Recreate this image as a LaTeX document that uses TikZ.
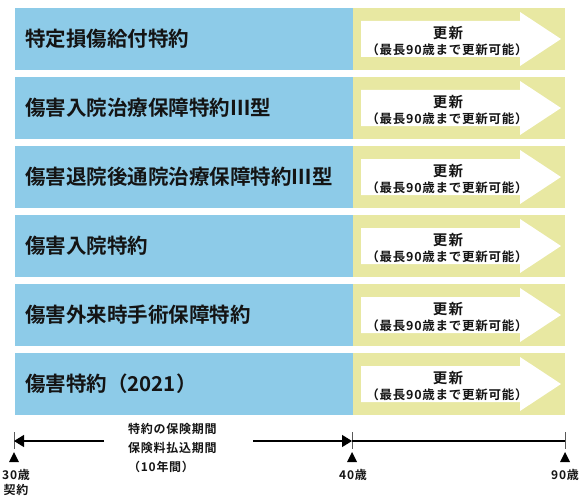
\documentclass[tikz,border=0pt]{standalone}
\usepackage{fontspec}
\setmainfont{Noto Sans CJK JP}[BoldFont={Noto Sans CJK JP Bold}]
\usetikzlibrary{arrows.meta}
\definecolor{rowblue}{RGB}{141,203,232}
\definecolor{rowyellow}{RGB}{232,232,162}
\definecolor{ink}{RGB}{20,20,20}
\begin{document}
\begin{tikzpicture}[x=1pt,y=-1pt,
  bluebox/.style={fill=rowblue, minimum width=338pt, minimum height=62pt, anchor=north west, inner sep=0pt, outer sep=0pt},
  yellowbox/.style={fill=rowyellow, minimum width=212pt, minimum height=62pt, anchor=north west, inner sep=0pt, outer sep=0pt},
  titletext/.style={anchor=west, inner sep=0pt, text=ink, font=\bfseries\fontsize{20.5}{24}\selectfont},
  renewbig/.style={inner sep=0pt, text=ink, font=\bfseries\fontsize{14.5}{17}\selectfont\addfontfeatures{LetterSpace=9}},
  renewsmall/.style={inner sep=0pt, text=ink, font=\bfseries\fontsize{12.5}{15}\selectfont\addfontfeatures{LetterSpace=6}},
  small/.style={inner sep=0pt, text=ink, font=\bfseries\fontsize{12}{15}\selectfont\addfontfeatures{LetterSpace=6}},
  tickline/.style={draw=black!65, line width=1pt},
  timeline/.style={draw=black, line width=1.3pt},
  mark30/.style={fill=black}
]
\useasboundingbox (0,0) rectangle (580,500);

\foreach \t [count=\i] in {特定損傷給付特約,傷害入院治療保障特約Ⅲ型,傷害退院後通院治療保障特約Ⅲ型,傷害入院特約,傷害外来時手術保障特約,傷害特約（2021）}{
  \pgfmathsetmacro\c{39+69*(\i-1)}
  \node[bluebox] (b\i) at (15,{\c-31}) {};
  \node[yellowbox] (y\i) at (353,{\c-31}) {};
  \fill[white] (361,{\c-18}) -- (520,{\c-18}) -- (520,{\c-27}) -- (561,\c) -- (520,{\c+27}) -- (520,{\c+18}) -- (361,{\c+18}) -- cycle;
  \node[titletext] (t\i) at (25,\c) {\t};
  \node[renewbig] (ra\i) at (448,{\c-6}) {更新};
  \node[renewsmall] (rb\i) at (447,{\c+11}) {（最長90歳まで更新可能）};
}

% timeline
\coordinate (t30) at (14,441);
\coordinate (t40) at (352,441);
\coordinate (t90) at (565,441);
\coordinate (la) at (104,441);
\coordinate (lb) at (253,441);
\coordinate (t30top) at (14,432);
\coordinate (t30bot) at (14,449);
\coordinate (t40top) at (352,432);
\coordinate (t40bot) at (352,449);
\coordinate (t90top) at (565,432);
\coordinate (t90bot) at (565,449);

\draw[tickline] (t30top) -- (t30bot);
\draw[tickline] (t40top) -- (t40bot);
\draw[tickline] (t90top) -- (t90bot);

\draw[timeline, -{Triangle[length=10pt,width=12pt]}] (la) -- (t30);
\draw[timeline, -{Triangle[length=10pt,width=12pt]}] (lb) -- (t40);
\draw[timeline] (t40) -- (t90);

\node[small, anchor=west] (p1) at (128,429) {特約の保険期間};
\node[small, anchor=west] (p2) at (128,448) {保険料払込期間};
\node[small, anchor=west] (p3) at (128,467) {（10年間）};

% small triangles
\foreach \x/\n in {14/a,352/b,565/c}{
  \fill[mark30] (\x,452) -- ({\x+5},462) -- ({\x-5},462) -- cycle;
}
\node[small] (l30) at (16,475) {30歳};
\node[small] (l30b) at (16,490) {契約};
\node[small] (l40) at (353,475) {40歳};
\node[small] (l90) at (565,475) {90歳};
\end{tikzpicture}
\end{document}
